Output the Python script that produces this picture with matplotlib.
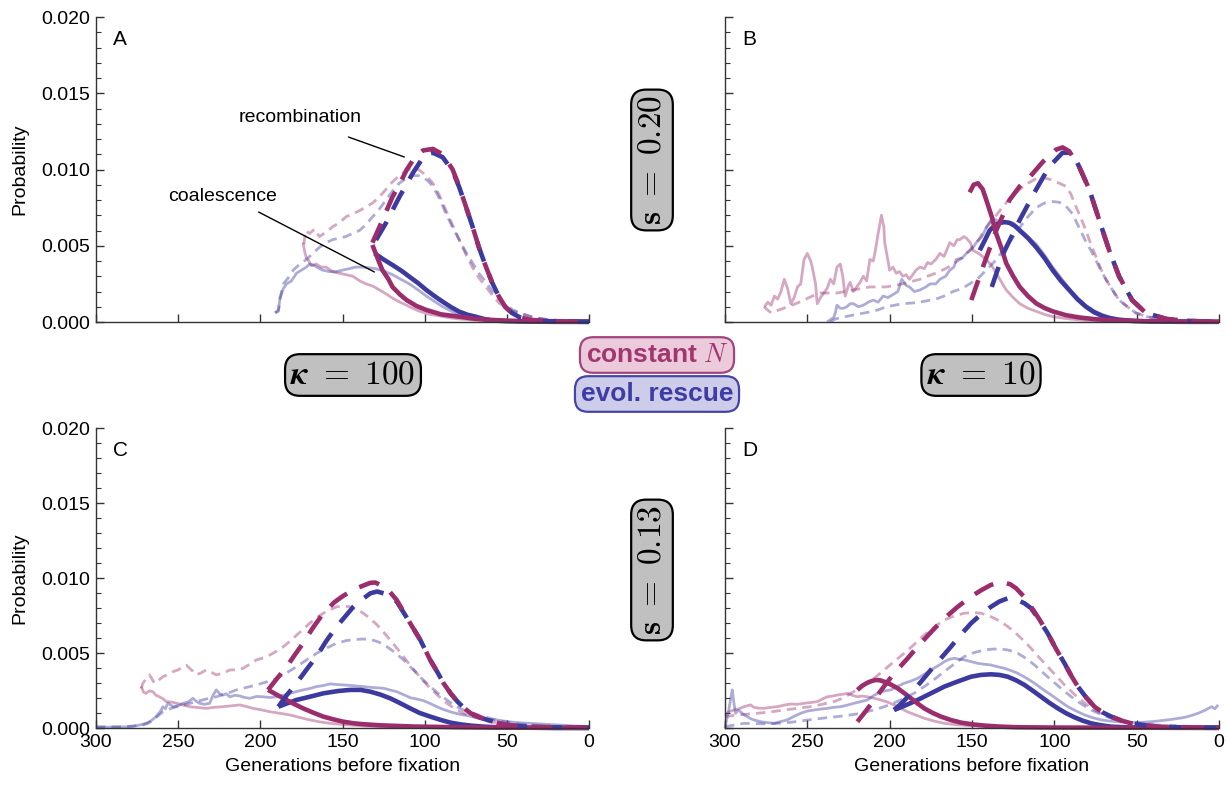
import numpy as np
import matplotlib
matplotlib.use('Agg')
import matplotlib.pyplot as plt
from matplotlib.ticker import MultipleLocator, FormatStrFormatter, NullFormatter

plt.rcParams['font.family'] = ['Liberation Sans', 'DejaVu Sans']
plt.rcParams['mathtext.fontset'] = 'cm'

# ---------------- data (generations before fixation, probability in units of 1e-3) -------------
# Panel A
a_trc_g = [131.8, 126, 119.6, 115, 111, 106, 101, 95, 89, 83, 79, 75, 71, 67, 63, 59, 55, 51, 47, 42, 36, 30, 20, 10, 0]
a_trc_p = [5.2, 6.6, 8.2, 9.1, 9.97, 10.8, 11.25, 11.35, 11.0, 10.0, 8.9, 7.6, 6.3, 4.9, 3.7, 2.6, 1.7, 1.0, 0.6, 0.3, 0.15, 0.08, 0.04, 0.02, 0.01]
a_trr_g = [129.6, 123.5, 115.4, 107, 100, 95, 89, 83, 79, 75, 71, 67, 63, 59, 55, 51, 47, 42, 36, 30, 20, 10, 0]
a_trr_p = [5.38, 6.5, 8.2, 9.8, 10.95, 11.1, 10.8, 9.9, 8.85, 7.6, 6.3, 4.9, 3.7, 2.6, 1.7, 1.0, 0.6, 0.3, 0.15, 0.08, 0.04, 0.02, 0.01]
a_tcc_g = [131.8, 128, 125.7, 122, 119.6, 115, 111, 105, 99, 90, 79, 70, 60, 50, 40, 30, 15, 0]
a_tcc_p = [5.05, 4.0, 3.4, 2.8, 2.3, 1.8, 1.44, 1.05, 0.79, 0.5, 0.35, 0.22, 0.14, 0.09, 0.06, 0.04, 0.03, 0.02]
a_tcr_g = [130.5, 125, 119.6, 114, 109.3, 104, 99, 94, 89, 84, 79, 74, 69, 64, 59, 50, 40, 20, 0]
a_tcr_p = [4.5, 4.1, 3.74, 3.35, 2.97, 2.55, 2.1, 1.7, 1.33, 0.98, 0.68, 0.48, 0.35, 0.2, 0.1, 0.05, 0.03, 0.01, 0.01]
a_src_g = [173.5, 172.5, 170, 167, 164, 160, 156, 152, 147.8, 143.7, 139.7, 135.6, 131.7, 127.6, 123.5, 119.5, 115.4, 111.5, 108.3, 105.5, 103.3, 99, 95, 91, 87, 83, 79, 75, 71, 67, 62.7, 58.7, 54.7, 50, 46, 42.5, 35, 28, 20, 10, 0]
a_src_p = [5.1, 6.0, 5.8, 6.1, 5.6, 5.9, 6.25, 6.5, 6.9, 7.1, 7.3, 7.55, 7.8, 8.2, 8.7, 9.2, 9.6, 9.9, 10.08, 10.1, 9.97, 9.6, 9.1, 8.3, 7.3, 6.35, 5.4, 4.45, 3.6, 2.9, 2.3, 1.75, 1.24, 0.9, 0.7, 0.6, 0.35, 0.2, 0.12, 0.08, 0.05]
a_srr_g = [191, 189, 188, 186, 183, 180, 176, 172, 168, 164, 160, 156, 152, 148, 144, 139.7, 135.6, 131.7, 127.6, 123.5, 119.5, 115.4, 111, 107, 104, 101, 98, 95, 91, 87, 83, 79, 75, 71, 67, 62.7, 58.7, 54.7, 50.5, 46.5, 40, 34, 25, 15, 0]
a_srr_p = [0.6, 0.7, 1.5, 2.5, 2.9, 3.4, 3.8, 4.1, 4.5, 4.9, 5.2, 5.4, 5.5, 5.6, 5.8, 6.0, 6.4, 6.9, 7.4, 8.0, 8.6, 9.1, 9.45, 9.6, 9.6, 9.5, 9.25, 8.9, 8.1, 7.1, 6.2, 5.4, 4.6, 3.9, 3.2, 2.6, 2.0, 1.5, 1.1, 0.8, 0.5, 0.3, 0.15, 0.08, 0.05]
a_scc_g = [174, 173, 172, 171, 169, 166, 163, 160, 156, 151.8, 147.7, 143.7, 139.6, 135.6, 131.5, 127.5, 123.5, 119.4, 115, 111, 107, 103, 97, 91, 85, 79, 70, 60, 40, 20, 0]
a_scc_p = [5.2, 4.6, 4.2, 4.1, 3.7, 3.8, 3.6, 3.6, 3.3, 3.2, 3.1, 3.0, 2.7, 2.5, 2.35, 2.1, 1.85, 1.55, 1.3, 1.1, 0.88, 0.7, 0.5, 0.4, 0.28, 0.2, 0.12, 0.08, 0.05, 0.03, 0.02]
a_scr_g = [191, 189, 188, 186, 184, 181, 178, 175, 172, 170, 167, 164, 162, 158, 154, 150, 145.8, 142, 138, 134, 130, 125, 119.5, 114.5, 109.3, 104, 99, 94, 89, 84, 79, 74, 69, 60, 45, 20, 0]
a_scr_p = [0.6, 0.8, 1.6, 2.2, 2.5, 2.7, 3.2, 3.4, 3.6, 3.8, 3.7, 3.5, 3.4, 3.3, 3.3, 3.4, 3.5, 3.6, 3.6, 3.55, 3.5, 3.35, 3.1, 2.8, 2.5, 2.1, 1.7, 1.35, 1.0, 0.72, 0.5, 0.33, 0.2, 0.1, 0.05, 0.03, 0.02]

# Panel B
b_trc_g = [150.4, 143.4, 135.3, 127.2, 121, 115, 107, 99, 95, 91, 85, 78.8, 72.8, 66.7, 60.7, 52.8, 44.5, 32, 20, 10, 0]
b_trc_p = [1.44, 3.6, 6.0, 8.0, 8.9, 9.5, 10.5, 11.3, 11.45, 11.2, 10.2, 8.7, 6.7, 4.7, 3.0, 1.44, 0.6, 0.2, 0.08, 0.04, 0.02]
b_trr_g = [138, 131, 121, 111, 103, 95, 89, 85, 78.8, 72.8, 66.7, 60.7, 52.8, 44.5, 32, 20, 10, 0]
b_trr_p = [2.3, 4.5, 6.7, 8.7, 10.2, 11.1, 11.1, 10.2, 8.7, 6.7, 4.7, 3.0, 1.44, 0.6, 0.2, 0.08, 0.04, 0.02]
b_tcc_g = [151.4, 149, 146.4, 143.5, 141.3, 138, 135.3, 132, 129.2, 125, 121, 116, 111, 106, 101, 93, 85, 75, 61, 45, 25, 0]
b_tcc_p = [8.5, 9.0, 9.1, 8.7, 8.0, 6.9, 5.8, 4.8, 3.85, 3.0, 2.3, 1.7, 1.22, 0.92, 0.7, 0.45, 0.3, 0.18, 0.1, 0.05, 0.03, 0.02]
b_tcr_g = [145.3, 142, 139.3, 136, 133.2, 130, 127.2, 124, 121, 116, 111, 106, 101, 96, 91, 86, 80.8, 76, 71, 66, 61, 52, 40, 20, 0]
b_tcr_p = [4.7, 5.4, 6.0, 6.35, 6.5, 6.55, 6.5, 6.3, 6.0, 5.5, 4.9, 4.2, 3.4, 2.7, 2.1, 1.5, 1.0, 0.65, 0.4, 0.25, 0.15, 0.07, 0.03, 0.01, 0.01]
b_src_g = [276.4, 272, 267, 262, 257, 252, 247, 242, 237, 232, 227, 222, 217, 212, 207, 202, 197, 192, 187, 181.6, 177, 172, 166, 161.5, 156, 151.4, 146, 141.3, 136, 131, 126, 121, 116, 111, 106, 101, 97, 93, 90, 87, 83.8, 80.8, 77.8, 74.8, 71.8, 68.7, 64.7, 60.7, 55, 50.6, 44, 36, 25, 12, 0]
b_src_p = [1.0, 0.6, 0.8, 1.0, 1.2, 1.44, 1.7, 1.9, 1.9, 1.9, 2.0, 2.1, 2.2, 2.3, 2.3, 2.3, 2.4, 2.5, 2.65, 2.8, 3.0, 3.2, 3.5, 3.8, 4.2, 4.7, 5.4, 6.2, 6.9, 7.6, 8.2, 8.7, 9.1, 9.4, 9.45, 9.3, 9.1, 8.9, 8.4, 7.6, 6.8, 6.0, 5.1, 4.3, 3.5, 2.8, 2.1, 1.44, 0.95, 0.6, 0.35, 0.2, 0.1, 0.05, 0.03]
b_srr_g = [236, 233, 227, 222, 217, 212, 207, 202, 197, 192, 186, 181.6, 177, 172, 167, 161.5, 156, 151.4, 146, 141.3, 136, 131, 126, 121, 116, 111, 106, 101, 97, 93, 89, 85, 81, 76.8, 72.7, 68.7, 64.7, 60.7, 55, 50.6, 44, 36, 25, 12, 0]
b_srr_p = [0.0, 0.2, 0.35, 0.46, 0.56, 0.66, 0.8, 1.0, 1.1, 1.2, 1.25, 1.3, 1.4, 1.5, 1.7, 2.0, 2.2, 2.5, 2.9, 3.4, 4.0, 4.7, 5.4, 6.2, 6.9, 7.5, 7.8, 7.9, 7.85, 7.6, 7.1, 6.2, 5.3, 4.5, 3.6, 2.8, 2.1, 1.44, 0.95, 0.6, 0.35, 0.2, 0.1, 0.05, 0.03]
b_scc_g = [276, 274, 272, 270, 268, 266, 264, 262, 260, 258, 256, 254, 252, 250, 248, 247, 245, 244, 242, 240, 238, 236, 234, 232, 230, 228.5, 227, 225, 224, 222, 220, 218, 216, 214, 212, 210, 209, 207, 205, 203.5, 203, 201, 200, 198, 196, 194, 192, 190, 188, 186, 184, 181.6, 179, 177, 175, 172, 169.5, 167, 165, 163.5, 161, 159, 157.4, 155, 153.4, 151, 149.4, 146, 141.3, 138, 135.3, 132, 129.2, 125, 121, 116, 111, 106, 101, 91, 81, 60, 30, 0]
b_scc_p = [1.0, 1.3, 1.1, 1.7, 1.5, 2.0, 2.8, 2.2, 1.2, 1.6, 2.3, 2.5, 4.1, 4.5, 4.0, 3.6, 2.5, 1.2, 1.6, 1.9, 2.2, 2.8, 2.5, 3.6, 3.8, 3.0, 1.7, 2.4, 2.6, 2.0, 2.3, 2.6, 3.0, 2.7, 4.1, 4.0, 4.5, 5.8, 7.0, 6.2, 5.2, 4.0, 3.4, 3.6, 3.2, 3.3, 3.0, 3.1, 2.8, 3.1, 3.4, 3.6, 3.5, 3.9, 3.8, 4.1, 4.5, 4.3, 4.8, 5.2, 5.0, 5.4, 5.4, 5.6, 5.5, 5.2, 4.7, 4.5, 4.1, 3.7, 3.2, 2.6, 2.1, 1.6, 1.2, 0.9, 0.7, 0.5, 0.35, 0.2, 0.1, 0.05, 0.03, 0.02]
b_scr_g = [238, 234, 233, 232, 230, 228, 226, 224, 222, 219, 216, 213, 210, 207, 204, 201, 198, 195, 192.7, 190, 188, 185, 181.6, 178, 175.5, 172, 169.5, 166, 163.5, 161, 159.5, 156, 153.4, 150, 147.4, 144, 141.3, 139, 137.2, 134, 131, 128, 125, 121, 116, 111, 106, 101, 96, 91, 86, 81, 76, 71, 66, 61, 50, 35, 15, 0]
b_scr_p = [0.0, 0.3, 0.6, 1.1, 0.9, 0.9, 1.0, 1.2, 1.2, 1.0, 1.1, 1.3, 1.44, 1.3, 1.7, 1.6, 1.8, 2.0, 2.8, 2.4, 2.3, 2.0, 2.1, 2.3, 2.5, 2.5, 2.8, 3.0, 3.4, 3.6, 4.1, 4.2, 4.5, 4.8, 5.2, 5.6, 6.2, 6.6, 6.8, 6.6, 6.5, 6.55, 6.5, 6.1, 5.6, 5.1, 4.4, 3.6, 2.9, 2.2, 1.6, 1.1, 0.75, 0.5, 0.3, 0.2, 0.1, 0.05, 0.03, 0.02]

# Panel C
c_trc_g = [195.3, 190, 184, 179, 174, 168, 161.7, 155, 150, 145.4, 140, 133, 130, 127, 122, 117, 113, 108.8, 102.7, 96.6, 92, 88.5, 84, 80, 76, 72, 67, 62, 56, 50, 43, 35.6, 20, 0]
c_trc_p = [2.56, 3.3, 4.1, 4.9, 5.67, 6.7, 7.67, 8.4, 8.8, 9.1, 9.4, 9.7, 9.72, 9.55, 9.2, 8.55, 7.8, 7.0, 5.9, 4.55, 3.7, 3.0, 2.3, 1.78, 1.35, 1.0, 0.75, 0.56, 0.38, 0.22, 0.15, 0.1, 0.06, 0.04]
c_trr_g = [189, 184, 178, 172, 165.8, 160, 153.6, 148, 143.4, 138, 133, 129, 125, 121, 117, 113, 108.8, 102.7, 96.6, 92, 88.5, 84, 80, 76, 72, 67, 62, 56, 50, 43, 35.6, 20, 0]
c_trr_p = [1.44, 2.2, 3.0, 3.9, 4.78, 5.8, 6.78, 7.5, 8.1, 8.6, 9.0, 9.12, 9.0, 8.8, 8.45, 7.75, 7.0, 5.9, 4.55, 3.7, 3.0, 2.3, 1.78, 1.35, 1.0, 0.75, 0.56, 0.38, 0.22, 0.15, 0.1, 0.06, 0.04]
c_tcc_g = [195.3, 191, 186, 180, 174, 168, 161.7, 155, 149.5, 143, 137, 127, 117, 107, 96.6, 80, 60, 30, 0]
c_tcc_p = [2.56, 2.3, 2.0, 1.65, 1.33, 1.05, 0.78, 0.58, 0.44, 0.33, 0.27, 0.2, 0.16, 0.12, 0.1, 0.07, 0.05, 0.04, 0.03]
c_tcr_g = [189, 184, 178, 170, 161.7, 153, 145.4, 139, 133, 127, 121, 115, 108.8, 103, 96.6, 90, 84.4, 78, 72, 64, 56, 40, 20, 0]
c_tcr_p = [1.44, 1.65, 1.89, 2.1, 2.33, 2.48, 2.56, 2.56, 2.44, 2.25, 2.0, 1.68, 1.33, 1.02, 0.78, 0.55, 0.38, 0.26, 0.18, 0.11, 0.07, 0.04, 0.02, 0.02]
c_src_g = [272.5, 271.5, 269.5, 267.5, 266, 264.4, 262, 259.3, 256, 253, 250, 247, 245, 243, 241, 239, 236, 233, 230, 226.8, 222, 218.6, 214, 210.5, 206, 202.4, 198, 194, 190, 186, 182, 178, 174, 170, 166, 161.7, 157.6, 153.6, 149.5, 145.4, 141.4, 137.3, 133, 129, 125, 121, 117, 112.9, 108.8, 104.8, 100.7, 96.6, 91.5, 86.5, 81.5, 76.3, 70, 64, 58, 52, 44, 35.6, 20, 0]
c_src_p = [2.67, 3.0, 3.3, 3.56, 3.3, 3.0, 3.2, 3.44, 3.6, 3.78, 3.9, 4.1, 4.2, 4.0, 3.8, 3.56, 3.7, 3.89, 3.75, 3.56, 3.7, 3.89, 3.9, 4.0, 4.3, 4.56, 4.7, 4.9, 5.15, 5.44, 5.8, 6.2, 6.6, 7.0, 7.35, 7.67, 7.9, 8.1, 8.15, 8.1, 7.95, 7.67, 7.3, 6.9, 6.4, 5.9, 5.35, 4.78, 4.2, 3.67, 3.15, 2.67, 2.15, 1.67, 1.3, 1.0, 0.75, 0.56, 0.4, 0.27, 0.17, 0.1, 0.06, 0.04]
c_srr_g = [300, 290, 283.7, 277, 271.5, 268, 265.4, 262, 259.3, 255, 251, 245, 239, 233, 226.8, 220.7, 214.6, 208.5, 202.4, 196, 190, 184, 178, 172, 165.8, 159.7, 153.6, 147.5, 141.4, 137, 133, 128, 123, 118, 112.9, 108.8, 104.8, 100.7, 96.6, 91.5, 86.5, 81.5, 76.3, 70, 64, 58, 52, 44, 35.6, 25, 15, 0]
c_srr_p = [0.1, 0.1, 0.1, 0.15, 0.22, 0.35, 0.56, 0.85, 1.1, 1.3, 1.44, 1.6, 1.78, 1.95, 2.1, 2.3, 2.56, 2.72, 2.89, 3.1, 3.33, 3.7, 4.1, 4.55, 5.0, 5.35, 5.67, 5.85, 5.93, 5.95, 5.93, 5.75, 5.44, 5.05, 4.56, 4.1, 3.67, 3.2, 2.78, 2.3, 1.89, 1.5, 1.22, 0.98, 0.78, 0.6, 0.44, 0.3, 0.22, 0.15, 0.1, 0.06]
c_scc_g = [272.5, 271, 269.5, 267.5, 265.4, 263.5, 261.4, 259, 257.3, 254, 251, 247, 243, 238, 233, 228, 222.7, 217.5, 212.5, 208.5, 204.4, 199, 194, 188, 182, 176, 170, 164, 157.6, 151.5, 145.4, 136, 127, 110, 90, 60, 30, 0]
c_scc_p = [2.78, 2.4, 2.33, 2.5, 2.44, 2.2, 2.1, 1.95, 1.78, 1.75, 1.67, 1.55, 1.44, 1.38, 1.33, 1.4, 1.44, 1.5, 1.56, 1.45, 1.33, 1.22, 1.1, 1.0, 0.89, 0.72, 0.56, 0.43, 0.33, 0.27, 0.22, 0.15, 0.11, 0.07, 0.05, 0.04, 0.03, 0.02]
c_scr_g = [300, 290, 279.7, 274, 269.5, 266.5, 263.4, 261, 259.3, 257.8, 256.3, 254.5, 253, 250, 247, 244, 241, 239, 237, 234, 230.8, 228.8, 226.8, 224.7, 222.7, 220.6, 218.6, 215.5, 212.5, 209.5, 206.4, 202.3, 198.3, 194, 190, 186, 182, 178, 174, 170, 165.8, 161.7, 157.6, 153.5, 149.5, 145.5, 141.4, 137.2, 133, 129, 125, 121, 117, 113, 108.8, 104.8, 100.7, 96.6, 92.6, 88.5, 84.4, 80.3, 76.3, 71, 66, 61, 56, 51, 45.8, 40.7, 35.6, 25, 15.3, 8, 0]
c_scr_p = [0.07, 0.08, 0.1, 0.2, 0.33, 0.5, 0.78, 1.1, 1.44, 1.3, 1.67, 1.55, 1.44, 1.5, 1.67, 1.75, 2.0, 1.8, 1.67, 1.6, 1.67, 2.2, 2.56, 2.3, 2.22, 2.3, 2.1, 2.2, 2.16, 2.05, 2.0, 2.12, 2.1, 2.05, 2.1, 2.2, 2.33, 2.45, 2.56, 2.65, 2.78, 2.85, 2.96, 2.92, 2.89, 2.86, 2.82, 2.78, 2.73, 2.7, 2.67, 2.55, 2.44, 2.25, 2.04, 1.95, 1.84, 1.65, 1.44, 1.25, 1.1, 0.98, 0.89, 0.78, 0.67, 0.6, 0.56, 0.47, 0.4, 0.36, 0.33, 0.26, 0.2, 0.15, 0.1]

# Panel D
d_trc_g = [219.6, 214.5, 209.4, 203.4, 197.3, 190, 183, 175, 166.8, 158.7, 150.6, 144.5, 138.5, 134.4, 130.3, 126.7, 123.2, 118.6, 114.1, 109, 104, 99, 93.8, 89.7, 85.7, 80.6, 75.6, 70.5, 65.4, 59.4, 53.3, 45, 37, 20, 0]
d_trc_p = [0.44, 1.15, 1.89, 2.8, 3.67, 4.55, 5.44, 6.4, 7.33, 8.1, 8.78, 9.2, 9.56, 9.68, 9.7, 9.6, 9.33, 8.8, 8.1, 7.25, 6.33, 5.3, 4.33, 3.5, 2.78, 2.05, 1.44, 1.05, 0.78, 0.52, 0.33, 0.2, 0.11, 0.06, 0.04]
d_trr_g = [197.3, 192, 187.1, 181, 175, 169, 162.8, 156.7, 150.6, 144.5, 138.5, 133.4, 128.3, 123.2, 118.1, 114.1, 109, 104, 99, 93.8, 89.7, 85.7, 80.6, 75.6, 70.5, 65.4, 59.4, 53.3, 45, 37, 20, 0]
d_trr_p = [1.22, 1.75, 2.33, 3.1, 3.89, 4.65, 5.44, 6.25, 7.0, 7.6, 8.1, 8.45, 8.67, 8.6, 8.33, 8.0, 7.2, 6.33, 5.3, 4.33, 3.5, 2.78, 2.05, 1.44, 1.05, 0.78, 0.52, 0.33, 0.2, 0.11, 0.06, 0.04]
d_tcc_g = [219.6, 216.5, 213.5, 211, 208.4, 205.9, 203.4, 199.3, 195.2, 191.2, 187.1, 183, 179, 174, 168.9, 162.8, 156.7, 149.6, 142.5, 132.4, 122.2, 100, 60, 0]
d_tcc_p = [2.56, 2.85, 3.04, 3.15, 3.22, 3.2, 3.11, 2.92, 2.67, 2.35, 2.0, 1.65, 1.33, 1.03, 0.78, 0.55, 0.38, 0.26, 0.18, 0.11, 0.07, 0.05, 0.04, 0.03]
d_tcr_g = [197.3, 190, 183, 175, 166.8, 158.7, 150.6, 144.5, 138.5, 133.4, 128.3, 123.2, 118.1, 113, 108, 103, 97.9, 92.8, 87.7, 82.6, 77.6, 71.5, 65.4, 55, 40, 0]
d_tcr_p = [1.22, 1.55, 1.89, 2.33, 2.78, 3.12, 3.44, 3.56, 3.6, 3.56, 3.44, 3.2, 2.89, 2.5, 2.1, 1.7, 1.33, 1.0, 0.73, 0.5, 0.33, 0.2, 0.11, 0.06, 0.04, 0.03]
d_src_g = [300, 292.6, 286, 280.4, 272, 264.2, 256, 248, 241, 233.8, 228.7, 223.6, 218.5, 213.5, 208.5, 203.4, 197.3, 191.2, 185, 179, 173, 166.8, 160.7, 154.7, 149.6, 144.5, 139.5, 134.4, 129.4, 124.3, 119.2, 114.1, 109, 104, 98.9, 93.8, 87.7, 81.6, 75.5, 69.5, 63.4, 57.3, 49, 41, 31, 20.8, 10, 0]
d_src_p = [0.78, 0.89, 0.95, 1.0, 1.1, 1.22, 1.33, 1.44, 1.6, 1.78, 2.0, 2.33, 2.65, 3.0, 3.42, 3.89, 4.45, 5.0, 5.6, 6.22, 6.75, 7.22, 7.5, 7.67, 7.72, 7.67, 7.5, 7.22, 6.87, 6.44, 5.9, 5.33, 4.7, 4.1, 3.5, 2.89, 2.25, 1.67, 1.22, 0.89, 0.62, 0.44, 0.28, 0.18, 0.11, 0.07, 0.05, 0.04]
d_srr_g = [300, 294, 288.5, 281, 274.3, 267, 260, 253, 246, 239, 231.7, 224.5, 217.5, 210.5, 203.3, 197.2, 191.2, 185, 179, 173, 166.8, 160.7, 154.7, 148.6, 142.5, 137.4, 132.3, 127.3, 122.2, 117, 112, 107, 101.9, 95.8, 89.7, 83.6, 77.6, 71.5, 65.4, 58.3, 51.2, 41, 31, 20.8, 10.7, 0]
d_srr_p = [0.11, 0.22, 0.33, 0.31, 0.29, 0.34, 0.4, 0.5, 0.6, 0.7, 0.78, 0.88, 1.0, 1.2, 1.44, 1.7, 2.0, 2.35, 2.78, 3.25, 3.78, 4.3, 4.78, 5.05, 5.22, 5.28, 5.29, 5.2, 5.0, 4.65, 4.22, 3.72, 3.22, 2.65, 2.1, 1.62, 1.22, 0.92, 0.67, 0.48, 0.33, 0.24, 0.18, 0.14, 0.11, 0.1]
d_scc_g = [300, 297.5, 294.6, 291.5, 288.5, 286.5, 284.5, 282.5, 280, 276.4, 272, 268.2, 264, 260, 256, 252, 248, 243.9, 241, 237.8, 234.7, 231.7, 228.6, 225.6, 222.6, 219.6, 216.5, 213.5, 209.4, 205.4, 201.4, 197.3, 193.2, 189.2, 184, 179, 173, 166.8, 159.7, 152.6, 142, 132.4, 110, 80, 40, 0]
d_scc_p = [0.89, 1.1, 1.22, 1.3, 1.44, 1.5, 1.56, 1.4, 1.35, 1.33, 1.4, 1.44, 1.55, 1.62, 1.6, 1.67, 1.72, 1.78, 1.95, 2.1, 2.15, 2.22, 2.27, 2.33, 2.2, 2.1, 2.15, 2.1, 2.0, 1.89, 1.75, 1.56, 1.33, 1.1, 0.88, 0.67, 0.48, 0.33, 0.24, 0.18, 0.13, 0.1, 0.07, 0.05, 0.04, 0.03]
d_scr_g = [300, 299, 297.7, 296.5, 295.6, 294.6, 293.6, 292, 290.6, 288.5, 286.5, 284.5, 282.5, 280.4, 278.4, 274.3, 270.3, 266.2, 262.2, 258.1, 254, 250, 246, 241.9, 237.8, 233.8, 229.7, 225.6, 221.6, 217.5, 213.5, 209.5, 205.4, 202.4, 199.3, 195.2, 191.2, 187.1, 183, 179, 175, 170.9, 166.8, 163.8, 160.7, 157.7, 154.7, 150.6, 146.5, 142.5, 138.5, 134.4, 130.3, 126.3, 122.2, 117, 112, 107, 101.9, 96.8, 91.8, 86.7, 81.6, 76.5, 71.5, 66.4, 61.4, 56.3, 51.2, 46.1, 41, 36, 31, 26, 20.8, 16.8, 12.7, 8.6, 4.5, 2.5, 0.5]
d_scr_p = [0.0, 0.6, 1.22, 2.0, 2.56, 1.7, 1.0, 1.2, 1.1, 0.9, 0.78, 0.65, 0.56, 0.5, 0.44, 0.38, 0.33, 0.45, 0.56, 0.8, 1.0, 1.15, 1.22, 1.28, 1.33, 1.4, 1.44, 1.55, 1.67, 1.78, 1.89, 2.2, 2.44, 2.5, 2.56, 2.8, 3.0, 3.15, 3.33, 3.6, 3.89, 4.15, 4.44, 4.6, 4.67, 4.6, 4.56, 4.45, 4.33, 4.27, 4.22, 4.1, 4.0, 3.85, 3.67, 3.35, 3.0, 2.6, 2.22, 1.82, 1.44, 1.15, 0.89, 0.7, 0.56, 0.48, 0.44, 0.4, 0.38, 0.4, 0.44, 0.5, 0.56, 0.64, 0.73, 0.85, 1.0, 1.2, 1.44, 1.3, 1.56]

PANEL_LABELS = ['A', 'B', 'C', 'D']
X_TICKS = [300, 250, 200, 150, 100, 50, 0]
UNIT = 1e-3

# ---------------- styling ----------------
MAG = '#9C2D6C'
BLU = '#3C3A9F'
LIGHT_ALPHA = 0.42
THICK_DASH = (4.6, 3.0)
THIN_DASH = (3.4, 2.2)

fig = plt.figure(figsize=(12.28, 7.86), dpi=100)
W, H = 1228.0, 786.0
rects = {
    'A': (96, 17, 589, 322),
    'B': (725, 17, 1219, 322),
    'C': (96, 428.3, 589, 728.3),
    'D': (725, 428.3, 1219, 728.3),
}

panels = {
    'A': (a_trc_g, a_trc_p, a_trr_g, a_trr_p, a_tcc_g, a_tcc_p, a_tcr_g, a_tcr_p,
          a_src_g, a_src_p, a_srr_g, a_srr_p, a_scc_g, a_scc_p, a_scr_g, a_scr_p),
    'B': (b_trc_g, b_trc_p, b_trr_g, b_trr_p, b_tcc_g, b_tcc_p, b_tcr_g, b_tcr_p,
          b_src_g, b_src_p, b_srr_g, b_srr_p, b_scc_g, b_scc_p, b_scr_g, b_scr_p),
    'C': (c_trc_g, c_trc_p, c_trr_g, c_trr_p, c_tcc_g, c_tcc_p, c_tcr_g, c_tcr_p,
          c_src_g, c_src_p, c_srr_g, c_srr_p, c_scc_g, c_scc_p, c_scr_g, c_scr_p),
    'D': (d_trc_g, d_trc_p, d_trr_g, d_trr_p, d_tcc_g, d_tcc_p, d_tcr_g, d_tcr_p,
          d_src_g, d_src_p, d_srr_g, d_srr_p, d_scc_g, d_scc_p, d_scr_g, d_scr_p),
}

axes = {}
for name in PANEL_LABELS:
    x0, y0, x1, y1 = rects[name]
    ax = fig.add_axes([x0 / W, 1 - y1 / H, (x1 - x0) / W, (y1 - y0) / H])
    axes[name] = ax
    (trc_g, trc_p, trr_g, trr_p, tcc_g, tcc_p, tcr_g, tcr_p,
     src_g, src_p, srr_g, srr_p, scc_g, scc_p, scr_g, scr_p) = panels[name]
    sc = lambda v: np.asarray(v) * UNIT
    kw = dict(clip_on=False, solid_capstyle='butt', dash_capstyle='butt')
    # simulations (light)
    ax.plot(src_g, sc(src_p), color=MAG, alpha=LIGHT_ALPHA, lw=2.0, dashes=THIN_DASH, **kw)
    ax.plot(srr_g, sc(srr_p), color=BLU, alpha=LIGHT_ALPHA, lw=2.0, dashes=THIN_DASH, **kw)
    ax.plot(scc_g, sc(scc_p), color=MAG, alpha=LIGHT_ALPHA, lw=2.0, **kw)
    ax.plot(scr_g, sc(scr_p), color=BLU, alpha=LIGHT_ALPHA, lw=2.0, **kw)
    # theory (thick)
    ax.plot(tcr_g, sc(tcr_p), color=BLU, lw=3.3, **kw)
    ax.plot(tcc_g, sc(tcc_p), color=MAG, lw=3.3, **kw)
    ax.plot(trr_g, sc(trr_p), color=BLU, lw=3.3, dashes=THICK_DASH, **kw)
    ax.plot(trc_g, sc(trc_p), color=MAG, lw=3.3, dashes=THICK_DASH, **kw)

    ax.set_xlim(300, 0)
    ax.set_ylim(0, 0.020)
    for s in ('top', 'right'):
        ax.spines[s].set_visible(False)
    for s in ('left', 'bottom'):
        ax.spines[s].set_color('#333333')
        ax.spines[s].set_linewidth(1.0)
    ax.set_xticks(X_TICKS)
    ax.yaxis.set_major_locator(MultipleLocator(0.005))
    ax.yaxis.set_minor_locator(MultipleLocator(0.001))
    ax.yaxis.set_major_formatter(FormatStrFormatter('%.3f'))
    ax.tick_params(which='major', direction='in', length=6, width=1, color='#333333',
                   labelsize=14, pad=4)
    ax.tick_params(which='minor', direction='in', length=3.5, width=0.8, color='#333333')
    ax.tick_params(axis='x', which='minor', bottom=False)
    if name in ('A', 'B'):
        ax.xaxis.set_major_formatter(NullFormatter())
    else:
        ax.set_xlabel('Generations before fixation', fontsize=14)
        ax.xaxis.set_label_coords(0.5, -0.098)
    if name in ('B', 'D'):
        ax.yaxis.set_major_formatter(NullFormatter())
    else:
        ax.set_ylabel('Probability', fontsize=14)
        ax.yaxis.set_label_coords(-0.137, 0.5)
    ax.text(0.034, 0.925, name, transform=ax.transAxes, fontsize=15,
            ha='left', va='center')
    ax.patch.set_alpha(0)

# annotations in panel A
axA = axes['A']
axA.text(176, 0.01338, 'recombination', fontsize=14, ha='center', va='center')
axA.annotate('', xy=(112.4, 0.01082), xytext=(146.4, 0.01213),
             arrowprops=dict(arrowstyle='-', lw=1.0, color='black', shrinkA=0, shrinkB=0))
axA.text(222.9, 0.00826, 'coalescence', fontsize=14, ha='center', va='center')
axA.annotate('', xy=(130.6, 0.00328), xytext=(201, 0.00721),
             arrowprops=dict(arrowstyle='-', lw=1.0, color='black', shrinkA=0, shrinkB=0))

# parameter boxes
gray_box = dict(boxstyle='round,pad=0.16,rounding_size=0.45', fc='#C0C0C0', ec='black', lw=1.6)
fig.text(652 / W, 1 - 160 / H, r'$\mathbf{s\ =\ 0.20}$', rotation=90, ha='center', va='center',
         fontsize=24, bbox=gray_box)
fig.text(652 / W, 1 - 570 / H, r'$\mathbf{s\ =\ 0.13}$', rotation=90, ha='center', va='center',
         fontsize=24, bbox=gray_box)
fig.text(353 / W, 1 - 375 / H, r'$\boldsymbol{\kappa}\ \mathbf{=\ 100}$', ha='center', va='center',
         fontsize=24, bbox=gray_box)
fig.text(981 / W, 1 - 375 / H, r'$\boldsymbol{\kappa}\ \mathbf{=\ 10}$', ha='center', va='center',
         fontsize=24, bbox=gray_box)

# legend boxes
fig.text(657 / W, 1 - 355 / H, r'constant $N$', ha='center', va='center', fontsize=19,
         fontweight='bold', color='#A3356F',
         bbox=dict(boxstyle='round,pad=0.22,rounding_size=0.5', fc='#EBCBDB', ec='#A3447C', lw=1.6))
fig.text(657 / W, 1 - 394 / H, 'evol. rescue', ha='center', va='center', fontsize=19,
         fontweight='bold', color='#3F3DA5',
         bbox=dict(boxstyle='round,pad=0.22,rounding_size=0.5', fc='#CDCDEA', ec='#4644A8', lw=1.6))

fig.savefig('out.png', dpi=100)
